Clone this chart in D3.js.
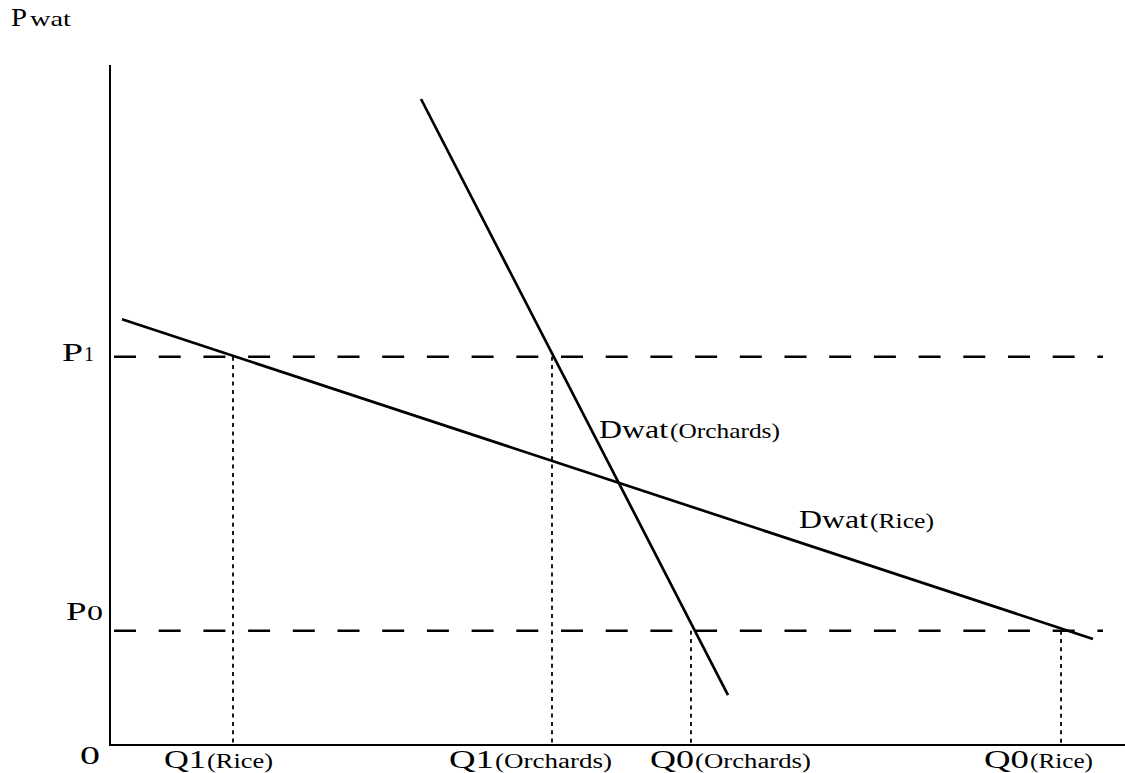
<!DOCTYPE html>
<html><head><meta charset="utf-8">
<script src="https://cdn.jsdelivr.net/npm/d3@7/dist/d3.min.js"></script>
<style>body{margin:0;background:#fff;} svg{display:block;} text{font-family:"Liberation Serif","Times New Roman",serif;fill:#000;}</style>
</head><body>
<svg id="c" width="1125" height="773"></svg>
<script>
// Data (arbitrary units, 0-100)
const riceDemand = [{q: 1.2, p: 62.6}, {q: 98.3, p: 15.6}];
const orchardsDemand = [{q: 31.1, p: 95.0}, {q: 61.8, p: 7.35}];
const priceLevels = [{name: "P", sub: "1", p: 57.1}, {name: "P", sub: "0", p: 16.8}];
const quantityLevels = [
  {name: "Q1", sub: "(Rice)", q: 12.3, p: 57.1},
  {name: "Q1", sub: "(Orchards)", q: 44.2, p: 57.1},
  {name: "Q0", sub: "(Orchards)", q: 58.1, p: 16.8},
  {name: "Q0", sub: "(Rice)", q: 95.1, p: 16.8}
];

const svg = d3.select("#c");
const x = d3.scaleLinear().domain([0, 100]).range([110, 1110]);
const y = d3.scaleLinear().domain([0, 100]).range([745, 65]);

// axes
svg.append("line").attr("x1", x(0)).attr("x2", x(0)).attr("y1", y(100)).attr("y2", y(0))
  .attr("stroke", "#000").attr("stroke-width", 2);
svg.append("line").attr("x1", x(0) - 1).attr("x2", 1125).attr("y1", y(0)).attr("y2", y(0))
  .attr("stroke", "#000").attr("stroke-width", 2);

// dashed price lines
svg.selectAll(".pl").data(priceLevels).enter().append("line")
  .attr("x1", x(0.4)).attr("x2", x(99.3)).attr("y1", d => y(d.p)).attr("y2", d => y(d.p))
  .attr("stroke", "#000").attr("stroke-width", 2.6).attr("stroke-dasharray", "22,22.7");

// dotted quantity lines
svg.selectAll(".ql").data(quantityLevels).enter().append("line")
  .attr("x1", d => x(d.q)).attr("x2", d => x(d.q)).attr("y1", d => y(d.p)).attr("y2", y(0))
  .attr("stroke", "#000").attr("stroke-width", 1.8).attr("stroke-dasharray", "4,4.3");

const line = d3.line().x(d => x(d.q)).y(d => y(d.p));
[riceDemand, orchardsDemand].forEach(dd => {
  svg.append("path").attr("d", line(dd)).attr("fill", "none").attr("stroke", "#000").attr("stroke-width", 2.7);
});

// a text part fitted to [x0, x1] with baseline by
function part(txt, x0, x1, by, size) {
  const g = svg.append("g");
  const t = g.append("text").attr("x", 0).attr("y", 0).attr("font-size", size).text(txt);
  const bb = t.node().getBBox();
  const s = (x1 - x0) / bb.width;
  g.attr("transform", `translate(${x0 - bb.x * s},${by}) scale(${s},1)`);
}
part("P", 11, 27, 26, 26); part("wat", 30, 71, 26, 22);
part(priceLevels[0].name, 62, 83, 361, 25); part(priceLevels[0].sub, 84, 94, 361, 21);
part(priceLevels[1].name, 66, 86.5, 620, 25); part(priceLevels[1].sub, 87, 103, 620, 21);
part("0", 80, 100, 764, 26);
const qSpans = [[164, 206, 273], [449, 494, 612], [650, 694, 811], [984, 1029, 1093]];
quantityLevels.forEach((d, i) => {
  part(d.name, qSpans[i][0], qSpans[i][1], 768, 26);
  part(d.sub, qSpans[i][1] + 1, qSpans[i][2], 768, 20);
});
part("Dwat", 599, 669, 438, 26); part("(Orchards)", 670, 780, 438, 20);
part("Dwat", 799, 869, 528, 26); part("(Rice)", 870, 934, 528, 20);
</script>
</body></html>
